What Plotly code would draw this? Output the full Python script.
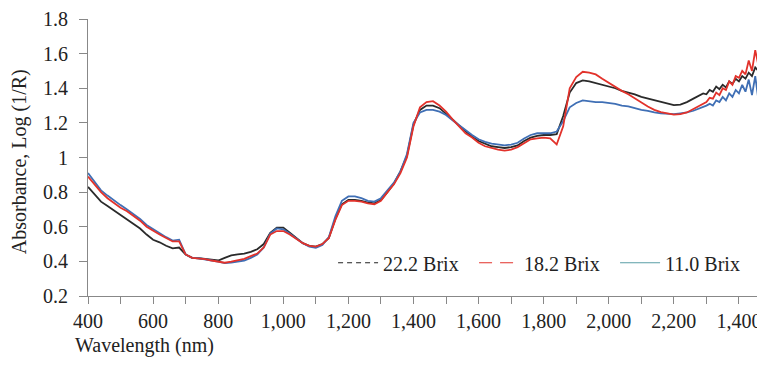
import plotly.graph_objects as go

wavelength = list(range(400, 2281, 20)) + list(range(2290, 2481, 10))

brix_22_2 = [0.83, 0.785, 0.745, 0.72, 0.695, 0.67, 0.645, 0.62, 0.59, 0.555,
             0.525, 0.51, 0.49, 0.475, 0.48, 0.44, 0.42, 0.418, 0.413, 0.408,
             0.405, 0.42, 0.435, 0.44, 0.445, 0.455, 0.47, 0.50, 0.565, 0.595,
             0.595, 0.565, 0.535, 0.505, 0.49, 0.485, 0.50, 0.535, 0.645, 0.73,
             0.755, 0.755, 0.75, 0.74, 0.735, 0.755, 0.80, 0.85, 0.92, 1.01,
             1.19, 1.275, 1.30, 1.30, 1.285, 1.255, 1.22, 1.185, 1.15, 1.12,
             1.095, 1.08, 1.065, 1.06, 1.055, 1.06, 1.07, 1.095, 1.115, 1.125,
             1.13, 1.13, 1.135, 1.24, 1.375, 1.43, 1.445, 1.44, 1.43, 1.42,
             1.41, 1.40, 1.385, 1.375, 1.365, 1.35, 1.34, 1.33, 1.322, 1.31,
             1.303, 1.305, 1.32, 1.34, 1.36,
             1.37, 1.365, 1.39, 1.38, 1.41, 1.395, 1.42, 1.405, 1.44, 1.425,
             1.455, 1.44, 1.47, 1.455, 1.49, 1.47, 1.52, 1.50, 1.54, 1.51]

brix_18_2 = [0.89, 0.845, 0.80, 0.765, 0.735, 0.71, 0.69, 0.665, 0.635, 0.60,
             0.575, 0.555, 0.535, 0.515, 0.515, 0.44, 0.42, 0.418, 0.413, 0.405,
             0.398, 0.392, 0.398, 0.405, 0.415, 0.43, 0.445, 0.48, 0.555, 0.575,
             0.575, 0.555, 0.53, 0.505, 0.49, 0.485, 0.50, 0.535, 0.64, 0.725,
             0.75, 0.75, 0.745, 0.735, 0.73, 0.75, 0.80, 0.845, 0.91, 1.00,
             1.18, 1.29, 1.32, 1.325, 1.30, 1.265, 1.22, 1.18, 1.14, 1.115,
             1.085, 1.065, 1.055, 1.045, 1.04, 1.045, 1.06, 1.085, 1.105, 1.11,
             1.115, 1.11, 1.075, 1.18, 1.40, 1.465, 1.495, 1.49, 1.48, 1.455,
             1.43, 1.41, 1.385, 1.365, 1.34, 1.315, 1.295, 1.275, 1.262, 1.255,
             1.248, 1.25, 1.26, 1.28, 1.30,
             1.31, 1.32, 1.345, 1.34, 1.375, 1.36, 1.40, 1.39, 1.44, 1.42,
             1.47, 1.46, 1.50, 1.48, 1.56, 1.50, 1.62, 1.53, 1.64, 1.52]

brix_11_0 = [0.91, 0.86, 0.81, 0.78, 0.75, 0.725, 0.70, 0.675, 0.645, 0.61,
             0.585, 0.565, 0.54, 0.52, 0.525, 0.44, 0.42, 0.418, 0.413, 0.405,
             0.398, 0.39, 0.393, 0.40, 0.405, 0.42, 0.44, 0.48, 0.56, 0.59,
             0.585, 0.56, 0.53, 0.505, 0.485, 0.478, 0.495, 0.54, 0.66, 0.75,
             0.775, 0.775, 0.765, 0.75, 0.745, 0.765, 0.81, 0.855, 0.92, 1.02,
             1.20, 1.26, 1.275, 1.275, 1.265, 1.245, 1.215, 1.185, 1.155, 1.13,
             1.105, 1.09, 1.08, 1.075, 1.07, 1.075, 1.085, 1.11, 1.13, 1.14,
             1.14, 1.14, 1.15, 1.21, 1.29, 1.315, 1.33, 1.325, 1.32, 1.32,
             1.315, 1.31, 1.30, 1.295, 1.285, 1.275, 1.27, 1.26, 1.255, 1.252,
             1.25, 1.255, 1.26, 1.27, 1.285,
             1.29, 1.30, 1.31, 1.30, 1.33, 1.32, 1.35, 1.33, 1.37, 1.35,
             1.39, 1.37, 1.42, 1.38, 1.45, 1.36, 1.47, 1.33, 1.42, 1.36]

series_names = ["22.2 Brix", "18.2 Brix", "11.0 Brix"]

x_tick_vals = list(range(400, 2401, 100))
x_tick_text = ["400", "", "600", "", "800", "", "1,000", "", "1,200", "", "1,400", "",
               "1,600", "", "1,800", "", "2,000", "", "2,200", "", "1,400"]

font_family = "Liberation Serif"
FS = 20

fig = go.Figure()

fig.add_trace(go.Scatter(x=wavelength, y=brix_22_2, mode="lines", showlegend=False,
                         line=dict(color="#2a2a2a", width=1.8)))
fig.add_trace(go.Scatter(x=wavelength, y=brix_11_0, mode="lines", showlegend=False,
                         line=dict(color="#3f6fb5", width=1.8)))
fig.add_trace(go.Scatter(x=wavelength, y=brix_18_2, mode="lines", showlegend=False,
                         line=dict(color="#e2322b", width=1.8)))

legend_styles = [dict(color="#222222", width=1.2, dash="5px,4px"),
                 dict(color="#e2322b", width=1.2, dash="13px,8px"),
                 dict(color="#5a9ea6", width=1.2)]
for name, ls in zip(series_names, legend_styles):
    fig.add_trace(go.Scatter(x=[None], y=[None], mode="lines", name=name, line=ls))

# page body adds an 8px offset, so the figure is sized 757x364
fig.update_layout(
    width=757, height=364,
    margin=dict(l=80, r=0, t=11, b=76, autoexpand=False),
    paper_bgcolor="white", plot_bgcolor="white",
    font=dict(family=font_family, size=FS, color="#222222"),
    showlegend=True,
    legend=dict(orientation="h", x=0.362, y=0.12, xanchor="left", yanchor="middle",
                bgcolor="rgba(0,0,0,0)", font=dict(size=FS, family=font_family),
                itemwidth=40, entrywidth=86, tracegroupgap=0),
    xaxis=dict(range=[400, 2480], tickvals=x_tick_vals, ticktext=x_tick_text,
               automargin=False,
               showgrid=False, zeroline=False, showline=True, linecolor="#888888",
               linewidth=1, ticks="outside", ticklen=7, tickcolor="#888888",
               ticklabelstandoff=0, tickfont=dict(size=FS, family=font_family)),
    yaxis=dict(range=[0.2, 1.8], dtick=0.2, tick0=0.2, showgrid=False, zeroline=False,
               automargin=False,
               showline=True, linecolor="#888888", linewidth=1, ticks="outside",
               ticklen=8, tickcolor="#888888", ticklabelstandoff=7,
               tickfont=dict(size=FS, family=font_family)),
    annotations=[
        dict(text="Wavelength (nm)", xref="paper", yref="paper", x=-0.0222, y=-0.178,
             xanchor="left", yanchor="middle", showarrow=False,
             font=dict(size=FS, family=font_family)),
        dict(text="Absorbance, Log (1/R)", xref="paper", yref="paper", x=-0.1, y=0.484,
             xanchor="center", yanchor="middle", textangle=-90, showarrow=False,
             font=dict(size=FS, family=font_family)),
    ],
)

fig.write_html("out.html")
